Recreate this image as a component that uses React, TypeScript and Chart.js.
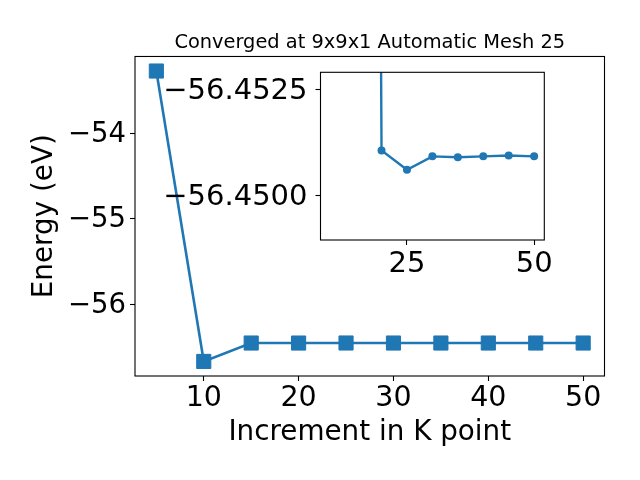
import React, { useEffect, useRef } from "react";
import { Chart, registerables } from "chart.js";

Chart.register(...registerables);

// ---- data ----
const kPoints = [5, 10, 15, 20, 25, 30, 35, 40, 45, 50];
const energies = [-53.274, -56.666, -56.451, -56.45106, -56.4506, -56.45092, -56.4509, -56.45092, -56.45094, -56.45092];

const insetK = [10, 20, 25, 30, 35, 40, 45, 50];
const insetEnergies = [-56.666, -56.45106, -56.4506, -56.45092, -56.4509, -56.45092, -56.45094, -56.45092];

const mainXTicks = [10, 20, 30, 40, 50];
const mainYTicks = [-56, -55, -54];
const insetXTicks = [25, 50];
const insetYTicks = [-56.4525, -56.45];

const TITLE = "Converged at 9x9x1 Automatic Mesh 25";
const X_LABEL = "Increment in K point";
const Y_LABEL = "Energy (eV)";

const BLUE = "#1f77b4";
const FONT = "'DejaVu Sans', sans-serif";

const minus = (s: string) => s.replace(/-/g, "\u2212");

const framePlugin = {
  id: "frame",
  beforeDraw(chart: any) {
    const { ctx, chartArea: a } = chart;
    ctx.save();
    ctx.fillStyle = "#fff";
    ctx.fillRect(a.left, a.top, a.right - a.left, a.bottom - a.top);
    ctx.restore();
  },
  afterDatasetsDraw(chart: any) {
    const { ctx, chartArea: a } = chart;
    ctx.save();
    ctx.strokeStyle = "#000";
    ctx.lineWidth = 1.1;
    ctx.strokeRect(a.left, a.top, a.right - a.left, a.bottom - a.top);
    ctx.restore();
  },
};

const tickGrid = {
  drawOnChartArea: false,
  drawTicks: true,
  tickLength: 5,
  tickColor: "#000",
  tickWidth: 1.1,
};

const noPadY = (width: number) => (s: any) => {
  s.width = width;
  s.paddingTop = 0;
  s.paddingBottom = 0;
};
const noPadX = (height: number) => (s: any) => {
  s.height = height;
  s.paddingLeft = 0;
  s.paddingRight = 0;
};

export default function App() {
  const mainRef = useRef<HTMLCanvasElement>(null);
  const insetRef = useRef<HTMLCanvasElement>(null);

  useEffect(() => {
    Chart.defaults.font.family = FONT;
    Chart.defaults.color = "#000";

    const main = new Chart(mainRef.current!, {
      type: "line",
      data: {
        datasets: [
          {
            data: kPoints.map((k, i) => ({ x: k, y: energies[i] })),
            borderColor: BLUE,
            backgroundColor: BLUE,
            borderWidth: 2.6,
            pointStyle: "rect",
            pointRadius: 10,
            pointBorderWidth: 1,
            pointBackgroundColor: BLUE,
            pointBorderColor: BLUE,
            tension: 0,
          },
        ],
      },
      options: {
        responsive: false,
        animation: false,
        events: [],
        layout: { padding: { left: 0, right: 35.5, top: 0, bottom: 0 } },
        plugins: {
          legend: { display: false },
          tooltip: { enabled: false },
          title: {
            display: true,
            text: TITLE,
            fullSize: false,
            color: "#000",
            font: { size: 19.4, weight: "normal", family: FONT, lineHeight: 1.2 },
            padding: { top: 31.4, bottom: 1.8 },
          },
        },
        scales: {
          x: {
            type: "linear",
            min: 2.75,
            max: 52.25,
            afterBuildTicks: (s: any) => {
              s.ticks = mainXTicks.map((v) => ({ value: v }));
            },
            afterFit: noPadX(104),
            grid: tickGrid,
            border: { display: false },
            ticks: {
              autoSkip: false,
              maxRotation: 0,
              minRotation: 0,
              padding: 3,
              color: "#000",
              font: { size: 28.5, lineHeight: 1 },
              callback: (v: any) => minus(String(v)),
            },
            title: {
              display: true,
              text: X_LABEL,
              color: "#000",
              font: { size: 27.8, lineHeight: 1.2 },
              padding: { top: 0, bottom: 30.2 },
            },
          },
          y: {
            type: "linear",
            min: -56.836,
            max: -53.104,
            afterBuildTicks: (s: any) => {
              s.ticks = mainYTicks.map((v) => ({ value: v }));
            },
            afterFit: noPadY(135),
            grid: tickGrid,
            border: { display: false },
            ticks: {
              autoSkip: false,
              padding: 4,
              labelOffset: 1.5,
              color: "#000",
              font: { size: 27.5, lineHeight: 1 },
              callback: (v: any) => minus(String(v)),
            },
            title: {
              display: true,
              text: Y_LABEL,
              color: "#000",
              font: { size: 27.8, lineHeight: 1.2 },
              padding: { top: 27.6, bottom: 0 },
            },
          },
        },
      },
      plugins: [framePlugin],
    } as any);

    const inset = new Chart(insetRef.current!, {
      type: "line",
      data: {
        datasets: [
          {
            data: insetK.map((k, i) => ({ x: k, y: insetEnergies[i] })),
            borderColor: BLUE,
            backgroundColor: BLUE,
            borderWidth: 2.4,
            pointStyle: "circle",
            pointRadius: 4,
            pointBorderWidth: 0,
            pointBackgroundColor: BLUE,
            tension: 0,
          },
        ],
      },
      options: {
        responsive: false,
        animation: false,
        events: [],
        layout: { padding: { left: 0, right: 25.7, top: 12.3, bottom: 0 } },
        plugins: {
          legend: { display: false },
          tooltip: { enabled: false },
          title: { display: false },
        },
        scales: {
          x: {
            type: "linear",
            min: 8,
            max: 52,
            afterBuildTicks: (s: any) => {
              s.ticks = insetXTicks.map((v) => ({ value: v }));
            },
            afterFit: noPadX(50),
            grid: tickGrid,
            border: { display: false },
            ticks: {
              autoSkip: false,
              maxRotation: 0,
              minRotation: 0,
              padding: 5,
              color: "#000",
              font: { size: 29, lineHeight: 1 },
              callback: (v: any) => minus(String(v)),
            },
          },
          y: {
            type: "linear",
            reverse: true,
            min: -56.45292,
            max: -56.44893,
            afterBuildTicks: (s: any) => {
              s.ticks = insetYTicks.map((v) => ({ value: v }));
            },
            afterFit: noPadY(170.5),
            grid: tickGrid,
            border: { display: false },
            ticks: {
              autoSkip: false,
              padding: 8,
              labelOffset: 2,
              color: "#000",
              font: { size: 29, lineHeight: 1 },
              callback: (v: any) => minus(Number(v).toFixed(4)),
            },
          },
        },
      },
      plugins: [framePlugin],
    } as any);

    return () => {
      main.destroy();
      inset.destroy();
    };
  }, []);

  return (
    <div style={{ position: "fixed", left: 0, top: 0, width: 640, height: 480, background: "#fff" }}>
      <canvas ref={mainRef} width={640} height={480} style={{ position: "absolute", left: 0, top: 0 }} />
      <canvas ref={insetRef} width={420} height={230} style={{ position: "absolute", left: 150, top: 60 }} />
    </div>
  );
}
